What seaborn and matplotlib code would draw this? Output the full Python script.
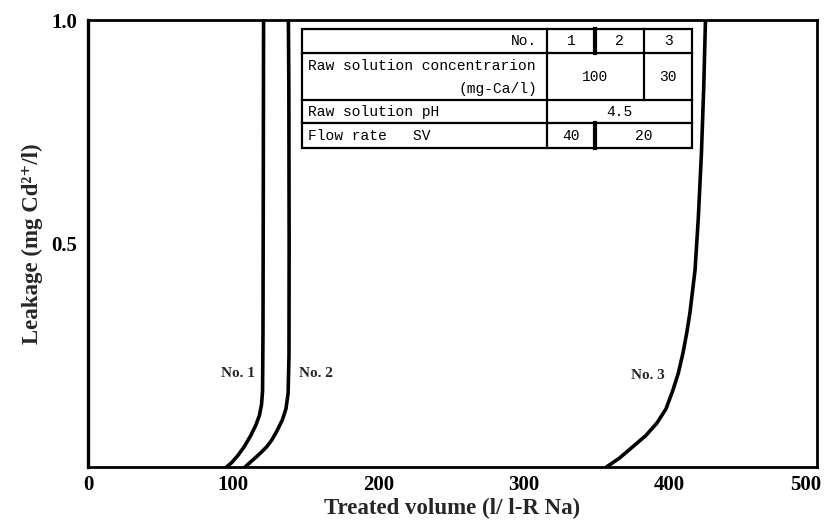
import matplotlib
matplotlib.use("Agg")
import matplotlib.pyplot as plt
import matplotlib.transforms as mtransforms
import seaborn as sns
import pandas as pd

# ---------------- data ----------------
run_names = ["No. 1", "No. 2", "No. 3"]
vol_no1 = [95.5, 99.0, 103.0, 107.5, 112.0, 115.5, 118.0, 119.5, 120.2, 120.5, 120.7, 120.9]
leak_no1 = [0.0, 0.01, 0.025, 0.045, 0.07, 0.093, 0.115, 0.14, 0.17, 0.30, 0.60, 1.0]
vol_no2 = [108.2, 111.5, 115.0, 119.0, 123.0, 126.5, 130.0, 133.8, 136.3, 137.8, 138.4, 138.5, 138.3, 138.0]
leak_no2 = [0.0, 0.01, 0.02, 0.032, 0.045, 0.06, 0.08, 0.105, 0.13, 0.165, 0.25, 0.50, 0.85, 1.0]
vol_no3 = [357.0, 366.0, 375.0, 384.0, 391.7, 398.0, 402.8, 406.5, 409.7, 412.3, 414.5, 418.0, 420.2, 422.4, 424.0, 425.2]
leak_no3 = [0.0, 0.02, 0.045, 0.07, 0.098, 0.13, 0.172, 0.21, 0.255, 0.30, 0.345, 0.44, 0.553, 0.70, 0.85, 1.0]

x_ticks = [0, 100, 200, 300, 400, 500]
y_ticks = [0.5, 1.0]
y_ticklabels = ["0.5", "1.0"]

table_header = ["No.", "1", "2", "3"]
conc_label = ["Raw solution concentrarion", "(mg-Ca/l)"]
conc_values = ["100", "30"]
ph_label = "Raw solution pH"
ph_value = "4.5"
flow_label = "Flow rate   SV"
flow_values = ["40", "20"]

df = pd.concat([
    pd.DataFrame({"vol": vol_no1, "leak": leak_no1, "run": run_names[0]}),
    pd.DataFrame({"vol": vol_no2, "leak": leak_no2, "run": run_names[1]}),
    pd.DataFrame({"vol": vol_no3, "leak": leak_no3, "run": run_names[2]}),
], ignore_index=True)

# ---------------- figure ----------------
sns.set_theme(style="white")
plt.rcParams["font.family"] = ["Liberation Serif", "DejaVu Serif"]

W, H = 827, 521
fig = plt.figure(figsize=(W / 100, H / 100), dpi=100)
L, R, T, B = 88, 817, 20, 467
ax = fig.add_axes([L / W, (H - B) / H, (R - L) / W, (B - T) / H])

sns.lineplot(data=df, x="vol", y="leak", hue="run", palette=["black"] * 3,
             sort=False, estimator=None, legend=False, linewidth=2.6, ax=ax)

ax.set_xlim(0, 502)
ax.set_ylim(0, 1.0)
ax.set_xticks(x_ticks)
ax.set_xticklabels([str(v) for v in x_ticks], fontsize=15, fontweight="bold")
ax.set_yticks(y_ticks)
ax.set_yticklabels(y_ticklabels, fontsize=15, fontweight="bold")
ax.tick_params(axis="both", direction="in", length=4, width=1.2, colors="black", pad=6)
ax.tick_params(axis="y", pad=8)

# nudge the last x tick label inward like the reference
lbls = ax.get_xticklabels()
lbls[-1].set_transform(lbls[-1].get_transform() +
                       mtransforms.ScaledTranslation(-8 / 100, 0, fig.dpi_scale_trans))

ax.set_xlabel("Treated volume (l/ l-R Na)", fontsize=16.5, fontweight="bold", labelpad=2)
ax.set_ylabel("Leakage (mg Cd\u00b2\u207a/l)", fontsize=16.5, fontweight="bold", labelpad=6)

for side, sp in ax.spines.items():
    sp.set_color("black")
    sp.set_linewidth(2.0)
ax.spines["left"].set_linewidth(2.4)

# curve labels
lab_pos = [(103.5, 0.21), (157.0, 0.21), (385.5, 0.205)]
for name, (lx, ly) in zip(run_names, lab_pos):
    ax.text(lx, ly, name, fontsize=11, fontweight="bold", ha="center", va="center")

# ---------------- table (axes-fraction layout) ----------------
def fx(px):
    return (px - L) / (R - L)

def fy(py):
    return (B - py) / (B - T)

def hline(py, x0, x1, lw=1.6):
    ax.plot([fx(x0), fx(x1)], [fy(py), fy(py)], color="black", lw=lw,
            transform=ax.transAxes, clip_on=False, solid_capstyle="projecting")

def vline(px, y0, y1, lw=1.6):
    ax.plot([fx(px), fx(px)], [fy(y0), fy(y1)], color="black", lw=lw,
            transform=ax.transAxes, clip_on=False, solid_capstyle="projecting")

tx0, tx1 = 301.7, 692.3
c1, c2, c3 = 546.7, 595.0, 644.0
r0, r1, r2, r3, r4 = 29.3, 53.3, 100.0, 123.3, 148.3

from matplotlib.patches import Rectangle
ax.add_patch(Rectangle((fx(tx0), fy(r4)), fx(tx1) - fx(tx0), fy(r0) - fy(r4),
                       transform=ax.transAxes, facecolor="white", edgecolor="black",
                       lw=1.6, zorder=1))
for ry in (r1, r2, r3):
    hline(ry, tx0, tx1)
vline(c1, r0, r4)
vline(c2, r0, r1, lw=3.0)
vline(c2, r3, r4, lw=3.0)
vline(c3, r0, r2)

tfont = dict(family=["Liberation Mono", "DejaVu Sans Mono"], fontsize=10.5, color="black")

def ttext(px, py, s, ha):
    ax.text(fx(px), fy(py), s, transform=ax.transAxes, ha=ha, va="center", **tfont)

ttext(537, (r0 + r1) / 2, table_header[0], "right")
ttext((c1 + c2) / 2, (r0 + r1) / 2, table_header[1], "center")
ttext((c2 + c3) / 2, (r0 + r1) / 2, table_header[2], "center")
ttext((c3 + tx1) / 2, (r0 + r1) / 2, table_header[3], "center")
ttext(308, 66.5, conc_label[0], "left")
ttext(537, 89.5, conc_label[1], "right")
ttext((c1 + c3) / 2, (r1 + r2) / 2, conc_values[0], "center")
ttext((c3 + tx1) / 2, (r1 + r2) / 2, conc_values[1], "center")
ttext(308, (r2 + r3) / 2, ph_label, "left")
ttext((c1 + tx1) / 2, (r2 + r3) / 2, ph_value, "center")
ttext(308, (r3 + r4) / 2, flow_label, "left")
ttext((c1 + c2) / 2, (r3 + r4) / 2, flow_values[0], "center")
ttext((c2 + tx1) / 2, (r3 + r4) / 2, flow_values[1], "center")

fig.savefig("out.png", dpi=100, facecolor="white")
